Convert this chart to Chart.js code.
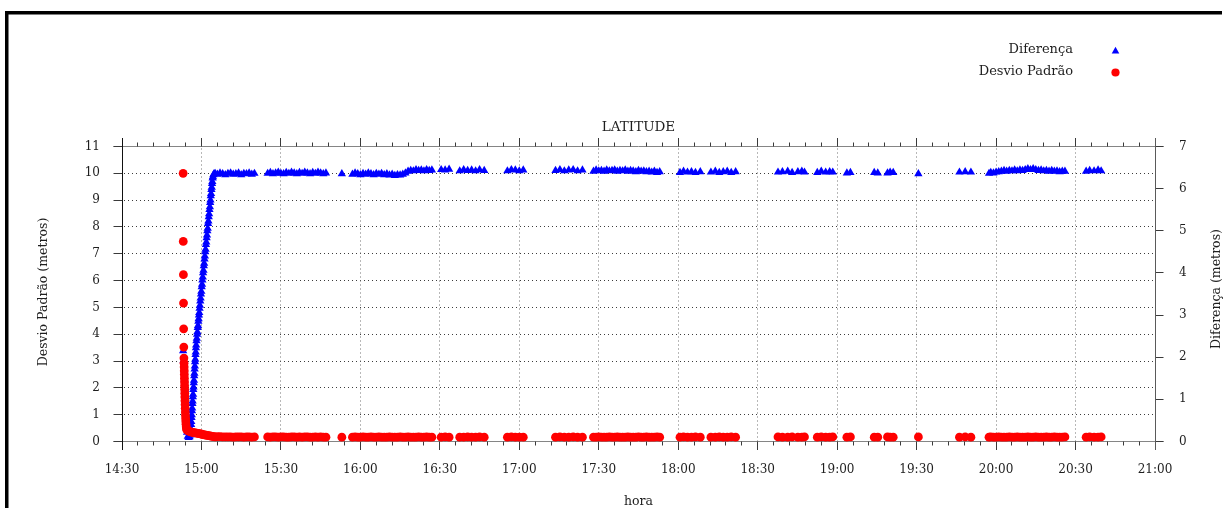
<!DOCTYPE html>
<html>
<head>
<meta charset="utf-8">
<title>LATITUDE</title>
<script src="https://cdn.jsdelivr.net/npm/chart.js@4.4.1/dist/chart.umd.min.js"></script>
<style>
  html, body { margin: 0; padding: 0; background: #fff; overflow: hidden; }
  canvas { display: block; }
</style>
</head>
<body>
<canvas id="c" width="1225" height="508"></canvas>
<script>
// ---- data -------------------------------------------------------------
const timeTicks = ["14:30","15:00","15:30","16:00","16:30","17:00","17:30",
                   "18:00","18:30","19:00","19:30","20:00","20:30","21:00"];

// first minutes of the session (Desvio Padrão, metros)
const dpStartTimes = [
  "14:53:05","14:53:08","14:53:11","14:53:14","14:53:17","14:53:20","14:53:23",
  "14:53:26","14:53:28","14:53:30","14:53:32","14:53:34","14:53:36","14:53:38",
  "14:53:40","14:53:42","14:53:44","14:53:46","14:53:49","14:53:52","14:53:55",
  "14:53:58","14:54:02","14:54:06","14:54:10","14:54:15","14:54:20","14:54:30",
  "14:54:45","14:55:10","14:55:40","14:56:10","14:56:40","14:57:10","14:57:40",
  "14:58:10","14:58:40","14:59:10","14:59:40","15:00:10","15:00:40","15:01:10",
  "15:01:40","15:02:10","15:02:40","15:03:10","15:03:40","15:04:10","15:04:40",
  "15:05:10"];
const dpStartValues = [
  10.0, 7.46, 6.22, 5.16, 4.20, 3.52, 3.11,
  2.92, 2.78, 2.64, 2.50, 2.36, 2.22, 2.08,
  1.94, 1.80, 1.66, 1.52, 1.38, 1.24, 1.10,
  0.97, 0.85, 0.74, 0.64, 0.55, 0.48, 0.43,
  0.41, 0.39, 0.37, 0.35, 0.34, 0.33, 0.32,
  0.31, 0.30, 0.29, 0.28, 0.27, 0.26, 0.25,
  0.24, 0.23, 0.22, 0.21, 0.20, 0.19, 0.18,
  0.17];

// first minutes of the session (Diferença, metros): drop, then the climb
const difStartTimes = [
  "14:53:05","14:53:15","14:53:25","14:53:35","14:53:45","14:53:55","14:54:05",
  "14:54:15","14:54:25","14:54:35","14:54:50","14:55:10","14:55:30",
  "14:55:50","14:55:55","14:56:00","14:56:05","14:56:10","14:56:15","14:56:20",
  "14:56:25","14:56:30","14:56:35","14:56:40","14:56:45","14:56:50","14:56:55",
  "14:57:00","14:57:05","14:57:10","14:57:15","14:57:20","14:57:25","14:57:30",
  "14:57:35","14:57:40","14:57:45","14:57:50","14:57:55","14:58:00","14:58:07",
  "14:58:14","14:58:21","14:58:28","14:58:35","14:58:42","14:58:49","14:58:56",
  "14:59:03","14:59:10","14:59:17","14:59:25","14:59:33","14:59:41","14:59:49",
  "14:59:57","15:00:05","15:00:13","15:00:21","15:00:29","15:00:37","15:00:45",
  "15:00:53","15:01:01","15:01:09","15:01:17","15:01:25","15:01:33","15:01:41",
  "15:01:49","15:01:57","15:02:05","15:02:13","15:02:21","15:02:29","15:02:37",
  "15:02:45","15:02:53","15:03:01","15:03:10","15:03:17","15:03:24","15:03:31",
  "15:03:38","15:03:45","15:03:52","15:03:59","15:04:06","15:04:13","15:04:20",
  "15:04:30","15:04:45","15:05:10"];
const difStartValues = [
  2.15, 1.92, 1.70, 1.48, 1.25, 1.02, 0.80,
  0.58, 0.38, 0.22, 0.12, 0.09, 0.11,
  0.15, 0.24, 0.30, 0.40, 0.47, 0.57, 0.63,
  0.73, 0.79, 0.90, 0.96, 1.06, 1.12, 1.23,
  1.29, 1.39, 1.45, 1.56, 1.62, 1.72, 1.79,
  1.89, 1.95, 2.06, 2.12, 2.22, 2.29, 2.39,
  2.45, 2.54, 2.60, 2.70, 2.75, 2.85, 2.91,
  3.00, 3.06, 3.16, 3.23, 3.33, 3.40, 3.50,
  3.56, 3.67, 3.73, 3.83, 3.90, 4.00, 4.06,
  4.17, 4.23, 4.33, 4.40, 4.50, 4.56, 4.67,
  4.73, 4.83, 4.90, 5.00, 5.06, 5.17, 5.23,
  5.33, 5.40, 5.50, 5.57, 5.67, 5.73, 5.83,
  5.88, 5.98, 6.03, 6.12, 6.17, 6.25, 6.28,
  6.33, 6.35, 6.36];

// steady part: samples shared by both series, one line per recording block
const sampleTimes = [
  "15:06","15:07","15:08","15:09","15:10","15:11","15:12","15:13","15:14","15:15","15:16","15:17","15:18","15:19","15:20",
  "15:25","15:26","15:27","15:28","15:29","15:30","15:31","15:32","15:33","15:34","15:35","15:36","15:37","15:38","15:39","15:40","15:41","15:42","15:43","15:44","15:45","15:46","15:47",
  "15:53",
  "15:57","15:58","15:59","16:00","16:01","16:02","16:03","16:04","16:05","16:06","16:07","16:08","16:09","16:10","16:11","16:12","16:13","16:14","16:15","16:16","16:17","16:18","16:19","16:20","16:21","16:22","16:23","16:24","16:25","16:26","16:27",
  "16:30:30","16:32","16:33:30",
  "16:37:30","16:39","16:40:30","16:42","16:43:30","16:45","16:46:45",
  "16:55:30","16:57","16:58:30","17:00","17:01:30",
  "17:13:40","17:15:20","17:17","17:18:40","17:20:20","17:22","17:23:50",
  "17:28","17:29","17:30","17:31","17:32","17:33","17:34","17:35","17:36","17:37","17:38","17:39","17:40","17:41","17:42","17:43","17:44","17:45","17:46","17:47","17:48","17:49","17:50","17:51","17:52","17:53",
  "18:00:40","18:02","18:03:30","18:05","18:06:30","18:08:20",
  "18:12:20","18:14","18:15:30","18:17","18:18:30","18:20","18:21:40",
  "18:37:40","18:39:20","18:41:20","18:43","18:45:10","18:46:40","18:47:40",
  "18:52:30","18:54","18:55:40","18:57:10","18:58:20",
  "19:03:40","19:05",
  "19:14","19:15:20",
  "19:19","19:20","19:21:10",
  "19:30:40",
  "19:46:10","19:48:20","19:50:30",
  "19:57:20","19:58","19:59","20:00","20:01","20:02","20:03","20:04","20:05","20:06","20:07","20:08","20:09","20:10","20:11","20:12","20:13","20:14","20:15","20:16","20:17","20:18","20:19","20:20","20:21","20:22","20:23","20:24","20:25","20:26",
  "20:34","20:35:20","20:37","20:38:30","20:39:40"];

const difValues = [
  6.34,6.37,6.35,6.33,6.36,6.37,6.34,6.35,6.37,6.33,6.36,6.35,6.37,6.34,6.36,
  6.36,6.38,6.35,6.37,6.39,6.36,6.35,6.38,6.36,6.39,6.37,6.35,6.38,6.36,6.39,6.37,6.35,6.38,6.36,6.39,6.37,6.35,6.37,
  6.35,
  6.34,6.37,6.35,6.33,6.36,6.34,6.37,6.35,6.33,6.36,6.34,6.36,6.33,6.35,6.32,6.34,6.31,6.33,6.32,6.34,6.37,6.41,6.43,6.42,6.45,6.43,6.44,6.42,6.45,6.43,6.44,
  6.45,6.44,6.46,
  6.42,6.45,6.43,6.44,6.42,6.45,6.43,
  6.42,6.45,6.44,6.42,6.44,
  6.43,6.45,6.42,6.44,6.45,6.42,6.44,
  6.41,6.44,6.42,6.43,6.41,6.44,6.42,6.43,6.44,6.41,6.43,6.42,6.44,6.41,6.43,6.42,6.40,6.43,6.41,6.42,6.40,6.41,6.39,6.41,6.38,6.40,
  6.38,6.41,6.39,6.40,6.38,6.40,
  6.39,6.41,6.38,6.40,6.41,6.38,6.40,
  6.39,6.40,6.41,6.38,6.40,6.41,6.39,
  6.38,6.41,6.39,6.40,6.39,
  6.37,6.38,
  6.38,6.37,
  6.37,6.39,6.38,
  6.35,
  6.39,6.40,6.39,
  6.36,6.38,6.37,6.39,6.40,6.41,6.43,6.41,6.43,6.42,6.44,6.42,6.44,6.43,6.45,6.47,6.45,6.47,6.45,6.43,6.44,6.42,6.43,6.41,6.43,6.41,6.42,6.40,6.41,6.41,
  6.41,6.43,6.42,6.44,6.42];

const dpValues = [
  0.18,0.18,0.17,0.17,0.17,0.17,0.16,0.17,0.17,0.17,0.16,0.17,0.17,0.16,0.17,
  0.17,0.16,0.17,0.17,0.16,0.17,0.17,0.16,0.16,0.17,0.17,0.16,0.17,0.16,0.17,0.17,0.16,0.16,0.17,0.16,0.17,0.16,0.16,
  0.16,
  0.16,0.17,0.16,0.16,0.17,0.16,0.16,0.17,0.16,0.16,0.17,0.16,0.16,0.16,0.17,0.16,0.16,0.16,0.17,0.16,0.16,0.17,0.16,0.16,0.16,0.17,0.16,0.16,0.17,0.16,0.16,
  0.16,0.17,0.16,
  0.16,0.16,0.17,0.16,0.16,0.17,0.16,
  0.16,0.17,0.16,0.16,0.16,
  0.16,0.17,0.16,0.16,0.17,0.16,0.16,
  0.16,0.16,0.17,0.16,0.16,0.16,0.17,0.16,0.16,0.17,0.16,0.16,0.16,0.17,0.16,0.16,0.16,0.17,0.16,0.16,0.17,0.16,0.16,0.16,0.17,0.16,
  0.16,0.17,0.16,0.16,0.17,0.16,
  0.16,0.16,0.17,0.16,0.16,0.17,0.16,
  0.17,0.16,0.16,0.17,0.16,0.16,0.17,
  0.16,0.17,0.16,0.16,0.17,
  0.16,0.17,
  0.16,0.16,
  0.17,0.16,0.16,
  0.17,
  0.16,0.17,0.16,
  0.16,0.17,0.16,0.16,0.17,0.16,0.16,0.16,0.17,0.16,0.16,0.17,0.16,0.16,0.16,0.17,0.16,0.16,0.17,0.16,0.16,0.16,0.17,0.16,0.16,0.17,0.16,0.16,0.16,0.17,
  0.16,0.17,0.16,0.16,0.17];

// ---- helpers ----------------------------------------------------------
const toMin = s => {
  const p = s.split(':').map(Number);
  return p[0] * 60 + p[1] + (p[2] || 0) / 60;
};
const toPoints = (times, values) => times.map((t, i) => ({ x: toMin(t), y: values[i] }));

if (sampleTimes.length !== difValues.length || sampleTimes.length !== dpValues.length ||
    difStartTimes.length !== difStartValues.length || dpStartTimes.length !== dpStartValues.length) {
  throw new Error('length mismatch');
}

const dpPoints  = toPoints(dpStartTimes, dpStartValues).concat(toPoints(sampleTimes, dpValues));
const difPoints = toPoints(difStartTimes, difStartValues).concat(toPoints(sampleTimes, difValues));

const SERIF = '"DejaVu Serif", "Liberation Serif", serif';
const INK = '#1e1e1e';

// ---- frame, grid, ticks, titles and key ---------------------------------
const decor = {
  id: 'decor',
  beforeDatasetsDraw(chart) {
    const ctx = chart.ctx;
    const { left, right, top, bottom } = chart.chartArea;
    const xs = chart.scales.x, yl = chart.scales.y, yr = chart.scales.y2;
    const px = v => Math.round(v - 0.5) + 0.5;
    ctx.save();
    ctx.lineWidth = 1;

    // dotted grid
    ctx.setLineDash([1, 3]);
    ctx.strokeStyle = '#3c3c3c';
    ctx.beginPath();
    yl.ticks.forEach(t => {
      if (t.value > yl.min && t.value < yl.max) {
        const y = px(yl.getPixelForValue(t.value));
        ctx.moveTo(left + 2, y); ctx.lineTo(right, y);
      }
    });
    ctx.stroke();
    ctx.strokeStyle = '#707070';
    ctx.beginPath();
    xs.ticks.forEach(t => {
      if (t.value > xs.min && t.value < xs.max) {
        const x = px(xs.getPixelForValue(t.value));
        ctx.moveTo(x, top + 2); ctx.lineTo(x, bottom);
      }
    });
    ctx.stroke();
    ctx.setLineDash([]);

    // horizontal axis lines (top and bottom), running over the y tick marks
    const yTop = px(top), yBot = px(bottom);
    const xL = px(left), xR = px(right);
    ctx.strokeStyle = '#858585';
    ctx.beginPath();
    ctx.moveTo(xL - 9, yTop); ctx.lineTo(xR + 8, yTop);
    ctx.moveTo(xL - 9, yBot); ctx.lineTo(xR + 8, yBot);
    ctx.stroke();

    // y tick marks
    ctx.strokeStyle = '#3a3a3a';
    ctx.beginPath();
    yl.ticks.forEach(t => {
      const y = px(yl.getPixelForValue(t.value));
      ctx.moveTo(xL - 9, y); ctx.lineTo(xL, y);
    });
    yr.ticks.forEach(t => {
      const y = px(yr.getPixelForValue(t.value));
      ctx.moveTo(xR, y); ctx.lineTo(xR + 8, y);
    });
    ctx.stroke();

    // x tick marks: majors at the labelled times, minors every 6 minutes
    ctx.beginPath();
    for (let v = xs.min; v <= xs.max + 1e-6; v += 6) {
      const x = px(xs.getPixelForValue(v));
      const major = Math.abs((v - xs.min) % 30) < 1e-6;
      const len = major ? 8.5 : 4;
      ctx.moveTo(x, yTop); ctx.lineTo(x, yTop - len);
      ctx.moveTo(x, yBot); ctx.lineTo(x, yBot + len);
    }
    ctx.stroke();

    // vertical axis lines
    ctx.strokeStyle = '#111';
    ctx.beginPath();
    ctx.moveTo(xL, yTop - 8.5); ctx.lineTo(xL, yBot + 8.5);
    ctx.stroke();
    ctx.strokeStyle = '#5a5a5a';
    ctx.beginPath();
    ctx.moveTo(xR, yTop - 8.5); ctx.lineTo(xR, yBot + 8.5);
    ctx.stroke();
    ctx.restore();
  },
  afterDraw(chart) {
    const ctx = chart.ctx;
    const { left, right } = chart.chartArea;
    const cx = (left + right) / 2;
    ctx.save();
    ctx.fillStyle = INK;

    // title and axis titles
    ctx.textAlign = 'center';
    ctx.textBaseline = 'alphabetic';
    ctx.font = '13.5px ' + SERIF;
    ctx.fillText('LATITUDE', cx, 131);
    ctx.font = '12.5px ' + SERIF;
    ctx.fillText('hora', cx, 505);

    ctx.textBaseline = 'middle';
    ctx.save();
    ctx.translate(43.5, 292);
    ctx.rotate(-Math.PI / 2);
    ctx.fillText(chart.options.scales.y.title.text, 0, 0);
    ctx.restore();
    ctx.save();
    ctx.translate(1216.5, 289);
    ctx.rotate(-Math.PI / 2);
    ctx.fillText(chart.options.scales.y2.title.text, 0, 0);
    ctx.restore();

    // key: label on the left, marker on the right
    const rows = chart.data.datasets.slice().reverse();
    const baselines = [52.7, 74.7];
    ctx.textAlign = 'right';
    ctx.textBaseline = 'alphabetic';
    ctx.font = '13px ' + SERIF;
    rows.forEach((ds, i) => {
      ctx.fillStyle = INK;
      ctx.fillText(ds.label, 1073, baselines[i]);
      ctx.fillStyle = ds.backgroundColor;
      const my = baselines[i] - (ds.pointStyle === 'triangle' ? 1.5 : 2.2);
      Chart.helpers.drawPoint(ctx, {
        pointStyle: ds.pointStyle, radius: ds.pointStyle === 'triangle' ? 4.4 : 4.1,
        rotation: 0, borderWidth: 0
      }, 1115.5, my);
    });

    // page frame
    ctx.fillStyle = '#000';
    ctx.fillRect(5, 11, 1217, 3.5);
    ctx.fillRect(5, 11, 3.5, 497);
    ctx.restore();
  }
};

// ---- chart ------------------------------------------------------------
const tickFont = { family: SERIF, size: 12 };

new Chart(document.getElementById('c'), {
  type: 'scatter',
  data: {
    datasets: [
      {
        label: 'Desvio Padrão',
        data: dpPoints,
        yAxisID: 'y',
        pointStyle: 'circle',
        pointRadius: 4.4,
        backgroundColor: '#ff0000',
        borderColor: '#ff0000',
        borderWidth: 0,
        clip: false
      },
      {
        label: 'Diferença',
        data: difPoints,
        yAxisID: 'y2',
        pointStyle: 'triangle',
        pointRadius: 4.8,
        backgroundColor: '#0000ff',
        borderColor: '#0000ff',
        borderWidth: 0,
        clip: false
      }
    ]
  },
  options: {
    responsive: false,
    animation: false,
    events: [],
    layout: { padding: { top: 146.5, left: 0, right: 0, bottom: 0 } },
    plugins: {
      legend: { display: false },
      title: { display: false },
      tooltip: { enabled: false }
    },
    scales: {
      x: {
        type: 'linear',
        position: 'bottom',
        min: toMin(timeTicks[0]),
        max: toMin(timeTicks[timeTicks.length - 1]),
        afterFit(s) { s.height = 66.5; },
        afterBuildTicks(s) { s.ticks = timeTicks.map(t => ({ value: toMin(t) })); },
        grid: { display: false, drawTicks: false },
        border: { display: false },
        ticks: {
          autoSkip: false, maxRotation: 0, padding: 21,
          font: tickFont, color: INK,
          callback: (v, i) => timeTicks[i]
        }
      },
      y: {
        type: 'linear',
        position: 'left',
        min: 0, max: 11,
        title: { display: false, text: 'Desvio Padrão (metros)' },
        afterFit(s) { s.width = 122; },
        grid: { display: false, drawTicks: false },
        border: { display: false },
        ticks: { stepSize: 1, padding: 22, font: tickFont, color: INK }
      },
      y2: {
        type: 'linear',
        position: 'right',
        min: 0, max: 7,
        title: { display: false, text: 'Diferença (metros)' },
        afterFit(s) { s.width = 70; },
        grid: { display: false, drawTicks: false },
        border: { display: false },
        ticks: { stepSize: 1, padding: 24, font: tickFont, color: INK }
      }
    }
  },
  plugins: [decor]
});
</script>
</body>
</html>
